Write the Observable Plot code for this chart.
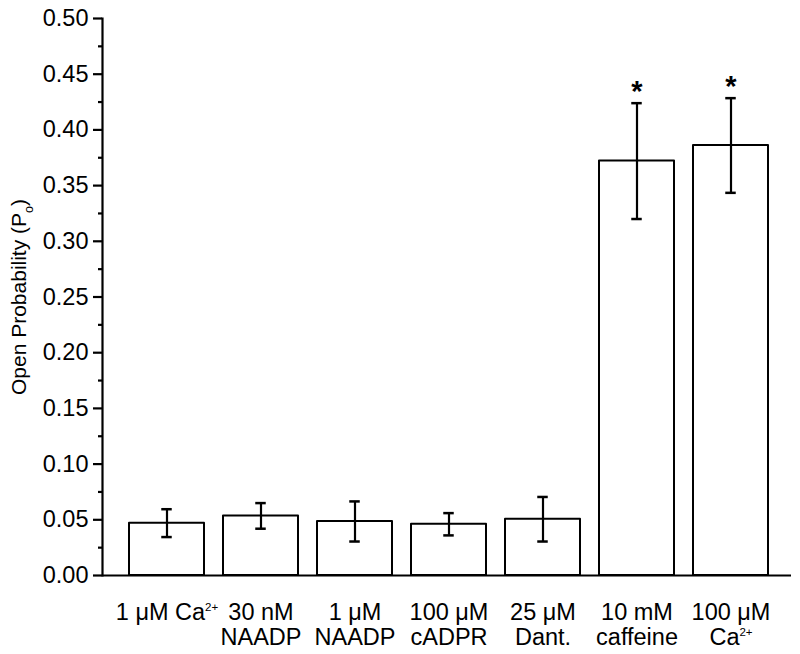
<!DOCTYPE html>
<html>
<head>
<meta charset="utf-8">
<script src="https://cdn.jsdelivr.net/npm/d3@7"></script>
<script src="https://cdn.jsdelivr.net/npm/@observablehq/plot@0.6"></script>
<style>
  html, body { margin: 0; padding: 0; background: #fff; }
  #chart svg { display: block; }
</style>
</head>
<body>
<div id="chart"></div>
<script>
const categories = ["1 μM Ca²⁺", "30 nM\nNAADP", "1 μM\nNAADP", "100 μM\ncADPR", "25 μM\nDant.", "10 mM\ncaffeine", "100 μM\nCa²⁺"];
const means = [0.047, 0.0535, 0.0485, 0.046, 0.0505, 0.372, 0.386];
const errors = [0.0125, 0.0115, 0.018, 0.010, 0.020, 0.052, 0.0425];
const significant = [false, false, false, false, false, true, true];
const yMajorTicks = [0, 0.05, 0.10, 0.15, 0.20, 0.25, 0.30, 0.35, 0.40, 0.45, 0.50];
const yMinorTicks = [0.025, 0.075, 0.125, 0.175, 0.225, 0.275, 0.325, 0.375, 0.425, 0.475];
const yLabel = "Open Probability (Po)";

const data = categories.map((c, i) => ({
  cat: c, mean: means[i], lo: means[i] - errors[i], hi: means[i] + errors[i], sig: significant[i]
}));

const W = 800, H = 654, ML = 102, MR = 9, MT = 18, MB = 79;
const PI = 0.2, PO = 0.25;
const step = (W - ML - MR) / (categories.length - PI + 2 * PO);
const bw = step * (1 - PI);
const capHalf = 5.5;
const capInset = bw / 2 - capHalf;
const font = "'Liberation Sans', Arial, Helvetica, sans-serif";

const chart = Plot.plot({
  width: W, height: H,
  marginLeft: ML, marginRight: MR, marginTop: MT, marginBottom: MB,
  style: { fontFamily: font, fontSize: "23px", color: "black", background: "white" },
  x: { domain: categories, paddingInner: PI, paddingOuter: PO, align: 0.545, label: null },
  y: { domain: [0, 0.5], label: null },
  marks: [
    Plot.barY(data, { x: "cat", y: "mean", fill: "white", stroke: "black", strokeWidth: 2, strokeLinejoin: "round" }),
    Plot.ruleX(data, { x: "cat", y1: "lo", y2: "hi", stroke: "black", strokeWidth: 2 }),
    Plot.tickY(data, { x: "cat", y: "hi", stroke: "black", strokeWidth: 2.5, insetLeft: capInset, insetRight: capInset }),
    Plot.tickY(data, { x: "cat", y: "lo", stroke: "black", strokeWidth: 2.5, insetLeft: capInset, insetRight: capInset }),
    Plot.text(data.filter(d => d.sig), { x: "cat", y: "hi", text: () => "*", fontSize: 29, fontWeight: "bold", lineAnchor: "bottom", dy: -2, fill: "black" }),
    Plot.ruleY([0], { stroke: "black", strokeWidth: 2 }),
    Plot.frame({ anchor: "left", stroke: "black", strokeWidth: 2 }),
    Plot.axisY({ ticks: yMajorTicks, tickSize: 9, tickPadding: 5, tickFormat: d3.format(".2f"), fontSize: 23, stroke: "black", strokeWidth: 2, label: null }),
    Plot.axisY({ ticks: yMinorTicks, tickSize: 4, tickFormat: () => "", stroke: "black", strokeWidth: 2, label: null }),
    Plot.axisX({ tickSize: 0, tickPadding: 27, fontSize: 23, lineHeight: 1.05, label: null }),
    Plot.text([yLabel], { frameAnchor: "left", rotate: -90, dx: -83, fontSize: 21, textAnchor: "middle", lineAnchor: "middle", fill: "black" })
  ]
});

// Crisp, dark axis strokes
chart.querySelectorAll('[aria-label="y-axis tick"], [aria-label="frame"], [aria-label="rule"]').forEach(g => {
  g.setAttribute("stroke", "black");
  g.setAttribute("stroke-width", "2.2");
  g.removeAttribute("stroke-opacity");
});
chart.querySelectorAll('[aria-label="y-axis tick label"], [aria-label="x-axis tick label"]').forEach(g => {
  g.setAttribute("font-size", "23.5");
  g.style.fontSize = "23.5px";
});

// Typographic post-processing: superscript charges and subscript "o"
const NS = "http://www.w3.org/2000/svg";
const walker = document.createTreeWalker(chart, NodeFilter.SHOW_TEXT);
const nodes = [];
while (walker.nextNode()) nodes.push(walker.currentNode);
for (const n of nodes) {
  const t = n.nodeValue;
  if (t.includes("²⁺")) {
    const [before, after] = t.split("²⁺");
    const parent = n.parentNode;
    const sup = document.createElementNS(NS, "tspan");
    sup.setAttribute("dy", "-9");
    sup.setAttribute("font-size", "11.5");
    sup.textContent = "2+";
    parent.insertBefore(document.createTextNode(before), n);
    parent.insertBefore(sup, n);
    if (after) parent.insertBefore(document.createTextNode(after), n);
    parent.removeChild(n);
  } else if (t === yLabel) {
    const parent = n.parentNode;
    const sub = document.createElementNS(NS, "tspan");
    sub.setAttribute("baseline-shift", "sub");
    sub.setAttribute("font-size", "0.6em");
    sub.textContent = "o";
    parent.insertBefore(document.createTextNode("Open Probability (P"), n);
    parent.insertBefore(sub, n);
    parent.insertBefore(document.createTextNode(")"), n);
    parent.removeChild(n);
  }
}

document.getElementById("chart").appendChild(chart);
</script>
</body>
</html>
